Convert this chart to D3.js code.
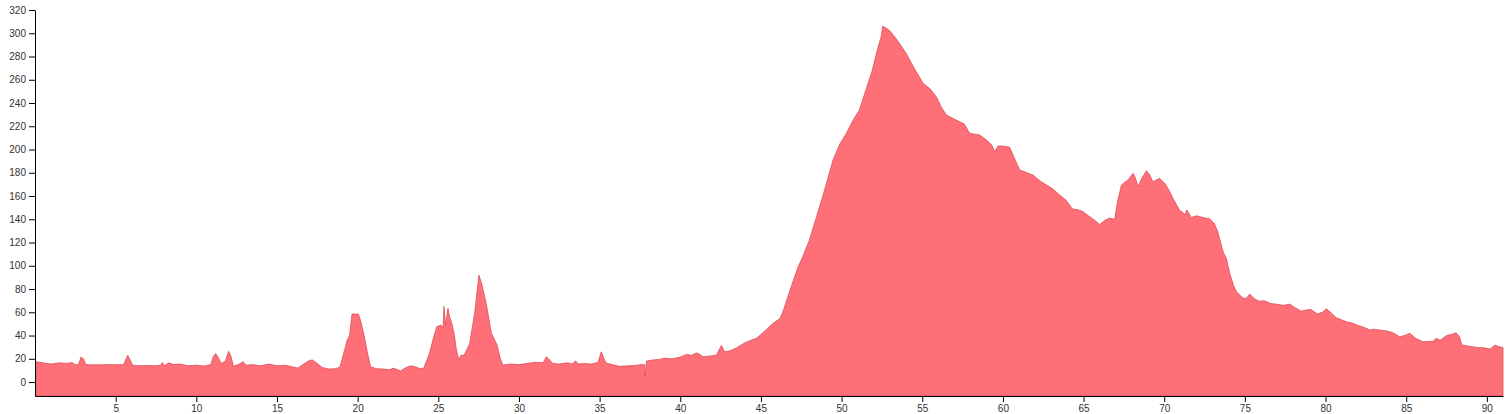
<!DOCTYPE html>
<html>
<head>
<meta charset="utf-8">
<script src="https://cdn.jsdelivr.net/npm/d3@7"></script>
<style>
  body { margin: 0; background: #fff; }
  .axis text { font-family: "Liberation Sans", Arial, sans-serif; font-size: 10px; fill: #333; }
</style>
</head>
<body>
<div id="chart"></div>
<script>
// profile
var distance = [
  0.05, 0.5, 1.0, 1.5, 2.0, 2.3, 2.5, 2.7, 2.85, 3.0, 3.15, 3.5, 4.0, 4.5, 5.0, 5.5, 5.65, 5.75, 5.9, 6.05,
  6.5, 7.0, 7.5, 7.8, 7.9, 8.0, 8.3, 8.6, 9.0, 9.5, 10.0, 10.5, 10.9, 11.05, 11.2, 11.4, 11.55, 11.8, 12.0, 12.15,
  12.3, 12.6, 12.9, 13.1, 13.5, 14.0, 14.5, 15.0, 15.5, 16.0, 16.3, 16.6, 17.0, 17.2, 17.5, 17.8, 18.2, 18.6, 18.9, 19.2,
  19.35, 19.5, 19.65, 20.05, 20.2, 20.4, 20.6, 20.8, 21.2, 21.6, 22.0, 22.2, 22.5, 22.65, 23.0, 23.3, 23.6, 23.9, 24.1, 24.46,
  24.7, 24.9, 25.15, 25.3, 25.35, 25.45, 25.6, 25.7, 25.85, 26.0, 26.12, 26.27, 26.4, 26.6, 26.94, 27.25, 27.52, 27.7, 27.98, 28.29,
  28.64, 28.85, 29.0, 29.5, 30.0, 30.5, 31.0, 31.5, 31.7, 31.9, 32.1, 32.5, 33.0, 33.3, 33.5, 33.7, 34.0, 34.5, 34.9, 35.1,
  35.3, 35.45, 35.8, 36.2, 36.8, 37.3, 37.6, 37.78, 37.82, 37.9, 38.3, 38.7, 39.0, 39.5, 40.0, 40.4, 40.7, 41.0, 41.2, 41.4,
  41.9, 42.24, 42.55, 42.75, 43.1, 43.5, 43.9, 44.3, 44.72, 45.0, 45.33, 45.7, 46.05, 46.2, 46.4, 46.6, 46.9, 47.3, 47.6, 48.0,
  48.44, 48.9, 49.47, 49.9, 50.3, 50.7, 51.1, 51.5, 51.9, 52.2, 52.45, 52.55, 52.7, 53.0, 53.4, 54.0, 54.5, 55.05, 55.5, 55.87,
  56.2, 56.5, 57.0, 57.3, 57.6, 57.94, 58.3, 58.56, 59.0, 59.3, 59.49, 59.7, 60.0, 60.42, 60.7, 61.04, 61.5, 61.87, 62.3, 62.7,
  63.1, 63.52, 63.9, 64.3, 64.7, 64.97, 65.3, 65.7, 66.0, 66.3, 66.62, 66.93, 67.1, 67.35, 67.8, 68.07, 68.2, 68.38, 68.6, 68.9,
  69.1, 69.3, 69.7, 70.03, 70.3, 70.54, 70.96, 71.15, 71.27, 71.4, 71.68, 72.0, 72.4, 72.8, 73.1, 73.3, 73.65, 73.86, 74.06, 74.3,
  74.48, 74.89, 75.1, 75.3, 75.6, 75.9, 76.2, 76.6, 76.95, 77.37, 77.8, 78.1, 78.5, 78.8, 79.1, 79.5, 79.8, 80.05, 80.3, 80.67,
  81.0, 81.3, 81.7, 82.1, 82.4, 82.74, 83.0, 83.36, 83.8, 84.18, 84.6, 84.9, 85.22, 85.6, 86.04, 86.4, 86.66, 86.86, 87.1, 87.5,
  87.8, 88.1, 88.3, 88.45, 88.8, 89.4, 89.8, 90.2, 90.5, 90.9, 91.0
];

var values = [
  17.5, 16.5, 15.5, 16.5, 16, 16.8, 14.8, 15, 21.5, 20, 15, 14.8, 14.8, 15, 14.8, 15, 20, 23, 19, 14.5,
  14, 14.2, 14, 14.5, 17, 14, 16.5, 15, 15.5, 14, 14.5, 13.8, 15, 22, 24.5, 20, 16, 18, 26.5, 22,
  13.5, 15, 17.5, 14.5, 15, 14, 15.5, 14, 14.5, 13, 12, 15, 18.5, 19, 16, 12.5, 11.2, 11.5, 12.8, 28,
  36, 40, 58.5, 58.5, 52, 40, 26, 13, 11.5, 11.2, 10.5, 12, 10.5, 9.5, 12.5, 14, 13, 11.5, 12, 25,
  38, 47.5, 49, 47, 65, 49, 63.5, 56, 50, 40, 28, 19, 23, 23, 33, 59, 92, 84, 67, 42,
  32, 20, 14.6, 15.5, 15, 16, 17, 16.5, 21.8, 19, 16, 15.5, 16.5, 15.5, 18, 15.5, 16, 15.5, 17, 26,
  19, 16, 15, 13.5, 14, 14.5, 15, 15, 4.6, 18, 19, 19.5, 20.5, 20, 21.5, 23.8, 23, 25, 24, 21.8,
  22.5, 23.2, 31.5, 26, 27, 29.5, 33, 35.5, 37.6, 41, 45, 50, 53.3, 55, 62, 70.5, 83, 99, 108, 122,
  142, 163, 191, 205, 214, 225, 234, 251, 268, 285, 297, 306, 305, 302, 295, 282.7, 270, 257, 252, 245.4,
  236, 229.7, 226, 224, 222, 214, 213, 212.5, 208, 204, 198, 203, 203, 202, 193, 182.4, 180, 178, 173, 169.5,
  166, 160.9, 156.6, 149, 148, 146.5, 143, 139, 135.5, 139, 141, 140, 155, 169.5, 174.5, 179.5, 176, 168, 175, 181.8,
  178, 172.3, 175.2, 171, 165, 158, 147.5, 146, 143.7, 148, 141.5, 143, 141.5, 140.5, 136.5, 130, 112, 106, 93.5, 83,
  77.7, 72, 72, 75.7, 71.5, 69.5, 70, 67.5, 67, 66, 67, 64, 61, 62, 62.5, 58.5, 60, 63, 60, 55.3,
  53.5, 51.9, 50.5, 48.2, 47, 44.7, 45.5, 44.7, 44, 42.4, 39, 40, 41.9, 37.5, 34.7, 35, 35, 37.6, 36, 40,
  41, 42.4, 39, 32, 31, 29.8, 29.5, 28.4, 31.8, 29.8, 29.8
];

var xTicks = [5, 10, 15, 20, 25, 30, 35, 40, 45, 50, 55, 60, 65, 70, 75, 80, 85, 90];
var yTicks = [0, 20, 40, 60, 80, 100, 120, 140, 160, 180, 200, 220, 240, 260, 280, 300, 320];
var yMin = -12;
var yMax = 320;

var width = 1512;
var height = 414;

var margin = {
  top: 10,
  bottom: 18,
  right: 9,
  left: 35
};

var svg = d3.select("#chart")
  .append('svg')
  .attr('width', width)
  .attr('height', height);

var g = svg.append("g")
  .attr('transform', 'translate(' + margin.left + ',' + margin.top + ')');

width = width - margin.left - margin.right;
height = height - margin.top - margin.bottom;

var data = distance.map(function(d, i) {
  return { x: d, y: values[i] };
});

var x = d3.scaleLinear()
  .domain([0, d3.max(distance)])
  .range([0, width]);

var y = d3.scaleLinear()
  .domain([yMin, yMax])
  .range([height, 0]);

var area = d3.area()
  .x(function(d) { return x(d.x); })
  .y0(height)
  .y1(function(d) { return y(d.y); });

g.append("path")
  .datum(data)
  .attr("d", area)
  .attr("fill", "#ff6f78")
  .attr("stroke", "#d8404e")
  .attr("stroke-width", 0.7);

g.append("g")
  .attr("class", "axis")
  .attr("transform", "translate(0," + height + ")")
  .call(d3.axisBottom(x).tickValues(xTicks).tickSizeOuter(0));

g.append("g")
  .attr("class", "axis")
  .call(d3.axisLeft(y).tickValues(yTicks).tickSizeOuter(0));
</script>
</body>
</html>
